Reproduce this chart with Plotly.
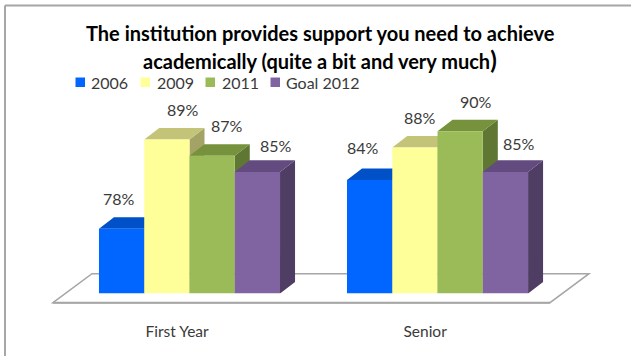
import plotly.graph_objects as go

WIDTH, HEIGHT = 631, 356

categories = ["First Year", "Senior"]
series_names = ["2006", "2009", "2011", "Goal 2012"]
values_2006 = [78, 84]
values_2009 = [89, 88]
values_2011 = [87, 90]
values_goal = [85, 85]
all_values = [values_2006, values_2009, values_2011, values_goal]

front_colors = ["#0066FF", "#FFFF99", "#9BBB59", "#8064A2"]
top_colors = ["#0050C8", "#C4C478", "#76923C", "#634B80"]
side_colors = ["#0044A8", "#A3A366", "#5F7733", "#4F3D63"]

# Hand-placed label nudges in pixels, per series then per category
label_dx = [[-3, -7], [16, 5], [15, 16], [19, 14]]
label_dy = [[30, 32], [30, 30], [30, 30], [26, 28]]

# Legend key positions in pixels: swatch left edge and text left edge
legend_swatch_px = [75.5, 140.5, 205.5, 270.5]
legend_text_px = [89, 155, 220, 284]

AXIS_MIN = 70
BAR_W = 0.1825
DEPTH_X = 0.0605
DEPTH_Y = 1.42
X_RANGE = [-0.764, 1.78]
Y_RANGE = [AXIS_MIN, 106.2]
BASE_PX = 293.5
TICK_SHIFT = -0.05
TEXT = "#3a3a3a"
RULE = "#a6a6a6"
FONT = "Lato"


def px(x):
    return x / WIDTH


def py(y):
    return 1 - y / HEIGHT


fig = go.Figure()
centers = list(range(len(categories)))

for i, (name, vals) in enumerate(zip(series_names, all_values)):
    offset = (i - 2) * BAR_W
    side_x, side_y, top_x, top_y = [], [], [], []
    for c, v in zip(centers, vals):
        left = c + offset
        right = left + BAR_W
        side_x += [right, right + DEPTH_X, right + DEPTH_X, right, right, None]
        side_y += [AXIS_MIN, AXIS_MIN + DEPTH_Y, v + DEPTH_Y, v, AXIS_MIN, None]
        top_x += [left, left + DEPTH_X, right + DEPTH_X, right, left, None]
        top_y += [v, v + DEPTH_Y, v + DEPTH_Y, v, v, None]
    for fx, fy, color, z in [(side_x, side_y, side_colors[i], 2 * i),
                             (top_x, top_y, top_colors[i], 2 * i)]:
        fig.add_trace(go.Scatter(x=fx, y=fy, mode="lines", fill="toself", fillcolor=color,
                                 line=dict(width=0, color=color), hoverinfo="skip",
                                 showlegend=False, zorder=z))
    fig.add_trace(go.Bar(x=centers, y=[v - AXIS_MIN for v in vals], base=AXIS_MIN, name=name,
                         width=BAR_W, offset=offset, marker=dict(color=front_colors[i], line_width=0),
                         showlegend=False, zorder=2 * i + 1))
    for c, v, dx, dy in zip(centers, vals, label_dx[i], label_dy[i]):
        fig.add_annotation(x=c + offset + BAR_W / 2, y=v, text=f"{v}%", showarrow=False,
                           xanchor="center", yanchor="middle", xshift=dx, yshift=dy,
                           font=dict(family=FONT, size=16, color=TEXT))

    # Legend key: small square and its label
    fig.add_shape(type="rect", xref="paper", yref="paper", x0=px(legend_swatch_px[i]),
                  x1=px(legend_swatch_px[i] + 9.5), y0=py(87), y1=py(77.5),
                  fillcolor=front_colors[i], line_width=0)
    fig.add_annotation(xref="paper", yref="paper", x=px(legend_text_px[i]), y=py(82), text=name,
                       showarrow=False, xanchor="left", yanchor="middle",
                       font=dict(family=FONT, size=16, color=TEXT))

# Floor slab under the columns and the outer frame
floor = (f"M {px(53)} {py(302.7)} L {px(92)} {py(273.7)} L {px(589)} {py(273.7)} "
         f"L {px(550)} {py(302.7)} Z")
fig.add_shape(type="path", path=floor, xref="paper", yref="paper", layer="below",
              fillcolor="white", line=dict(color=RULE, width=1.5))
fig.add_shape(type="line", xref="paper", yref="paper", x0=px(53), x1=px(550), y0=py(302.7), y1=py(302.7),
              layer="below", line=dict(color=RULE, width=2))
fig.add_shape(type="line", xref="paper", yref="paper", x0=px(5), x1=1, y0=py(5.5), y1=py(5.5),
              line=dict(color=RULE, width=2))
fig.add_shape(type="line", xref="paper", yref="paper", x0=px(5), x1=px(5), y0=py(5.5), y1=0,
              line=dict(color=RULE, width=2))

title_font = dict(family=FONT, size=20, color="#000000", weight="bold")
fig.add_annotation(xref="paper", yref="paper", x=px(320), y=py(33), showarrow=False, font=title_font,
                   xanchor="center", yanchor="middle",
                   text="The institution provides support you need to achieve")
fig.add_annotation(xref="paper", yref="paper", x=px(320), y=py(60), showarrow=False, font=title_font,
                   xanchor="center", yanchor="middle",
                   text="academically (quite a bit and very much<span style='font-size:24px'>)</span>")

fig.update_layout(
    width=WIDTH, height=HEIGHT, margin=dict(l=0, r=0, t=0, b=0),
    paper_bgcolor="white", plot_bgcolor="rgba(0,0,0,0)",
    xaxis=dict(range=X_RANGE, tickvals=[c + TICK_SHIFT for c in centers], ticktext=categories,
               showgrid=False, zeroline=False, showline=False, ticks="", ticklabelstandoff=27,
               tickfont=dict(family=FONT, size=15.5, color=TEXT)),
    yaxis=dict(range=Y_RANGE, domain=[1 - BASE_PX / HEIGHT, 1], visible=False),
    showlegend=False,
)

fig.write_html("out.html")
